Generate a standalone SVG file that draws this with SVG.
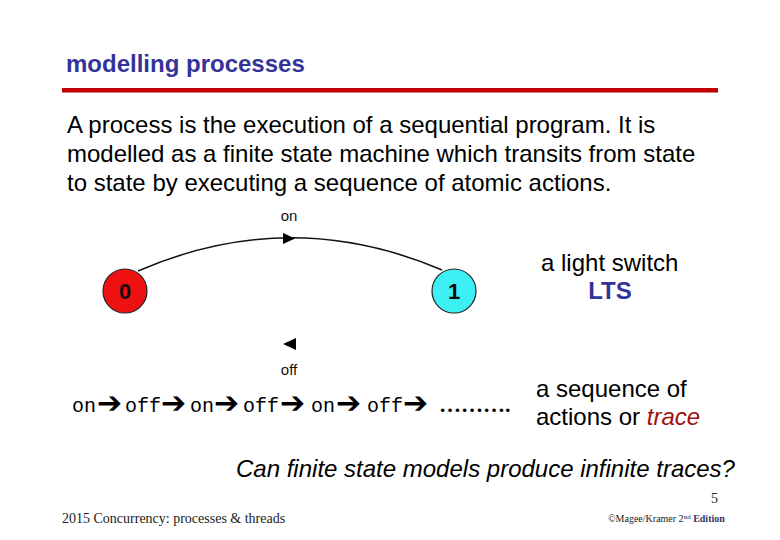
<svg xmlns="http://www.w3.org/2000/svg" width="780" height="540" viewBox="0 0 780 540">
<style>
.sans{font-family:"Liberation Sans",Arial,sans-serif}
.mono{font-family:"Liberation Mono","Courier New",monospace}
.serif{font-family:"Liberation Serif","Times New Roman",serif}
.body{font-size:24px;fill:#000}
.lbl{font-size:15px;fill:#111;text-anchor:middle}
.state{stroke:#222;stroke-width:1.2}
.num{font-size:22px;font-weight:bold;fill:#1a0a0a;text-anchor:middle}
.arr{font-family:"DejaVu Sans",sans-serif;font-weight:bold;font-size:30px;fill:#000}
.tr{font-family:"Liberation Mono","Courier New",monospace;font-size:20px;fill:#000}
</style>
<rect width="780" height="540" fill="#fff"/>
<text x="66" y="72" class="sans" font-size="24" font-weight="bold" fill="#333399">modelling processes</text>
<rect x="62" y="88" width="656" height="4.5" fill="#c00000"/>
<text class="sans body">
<tspan x="67" y="133">A process is the execution of a sequential program. It is</tspan>
<tspan x="67" y="162">modelled as a finite state machine which transits from state</tspan>
<tspan x="67" y="191">to state by executing a sequence of atomic actions.</tspan>
</text>
<g id="connectors">
<path d="M138,271 Q290,205 442,270" fill="none" stroke="#111" stroke-width="1.5"/>
<polygon points="283,233 295,238.5 283,244" fill="#000"/>
<polygon points="296,338 283,344 296,350" fill="#000"/>
<text x="289" y="221" class="sans lbl">on</text>
<text x="289" y="375" class="sans lbl">off</text>
</g>
<g id="s0">
<circle cx="125" cy="291" r="22" fill="#ee1111" class="state"/>
<text x="125" y="299" class="sans num">0</text>
</g>
<g id="s1">
<circle cx="454" cy="291" r="22" fill="#3cf0f4" class="state"/>
<text x="454" y="299" class="sans num">1</text>
</g>
<text x="541" y="271" class="sans body">a light switch</text>
<text x="610" y="299" class="sans" font-size="24" font-weight="bold" fill="#333399" text-anchor="middle">LTS</text>
<g id="trace">
<text x="72" y="412" class="tr">on</text>
<text x="97" y="413" class="arr">➔</text>
<text x="125" y="412" class="tr">off</text>
<text x="161" y="413" class="arr">➔</text>
<text x="190" y="412" class="tr">on</text>
<text x="214" y="413" class="arr">➔</text>
<text x="243" y="412" class="tr">off</text>
<text x="280" y="413" class="arr">➔</text>
<text x="311" y="412" class="tr">on</text>
<text x="336" y="413" class="arr">➔</text>
<text x="367" y="412" class="tr">off</text>
<text x="403" y="413" class="arr">➔</text>
<text x="439" y="412" class="serif" font-size="22" font-weight="bold" fill="#000">……….</text>
</g>
<text x="536" y="397" class="sans body">a sequence of</text>
<text x="536" y="425" class="sans body">actions or <tspan font-style="italic" fill="#a01010">trace</tspan></text>
<text x="236" y="477" class="sans body" font-style="italic">Can finite state models produce infinite traces?</text>
<text x="718" y="503" class="serif" font-size="14" fill="#222" text-anchor="end">5</text>
<text x="62" y="523" class="serif" font-size="14" fill="#222">2015 Concurrency: processes &amp; threads</text>
<text x="608" y="522" class="serif" font-size="10" fill="#222">©Magee/Kramer 2<tspan font-size="7" dy="-3">nd</tspan><tspan dy="3" font-weight="bold" fill="#333366"> Edition</tspan></text>
</svg>
